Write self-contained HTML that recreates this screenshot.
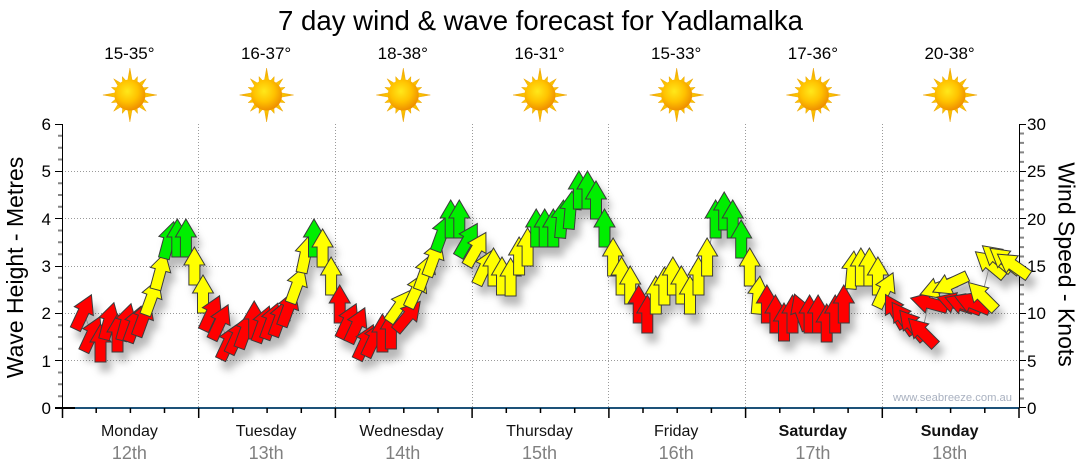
<!DOCTYPE html>
<html>
<head>
<meta charset="utf-8">
<style>
html,body{margin:0;padding:0;background:#fff;}
svg{display:block;font-family:"Liberation Sans",Arial,sans-serif;}
.r{fill:#ff0000}
.y{fill:#ffff00}
.g{fill:#00ee00}
</style>
</head>
<body>
<svg width="1080" height="475" viewBox="0 0 1080 475" xmlns="http://www.w3.org/2000/svg">
<defs>
  <radialGradient id="sung" cx="42%" cy="38%" r="62%">
    <stop offset="0" stop-color="#ffe81a"/>
    <stop offset="0.55" stop-color="#ffc200"/>
    <stop offset="1" stop-color="#ef9000"/>
  </radialGradient>
  <radialGradient id="rayg" cx="50%" cy="50%" r="50%">
    <stop offset="0.4" stop-color="#ffd400"/>
    <stop offset="1" stop-color="#f2a400"/>
  </radialGradient>
  <g id="sun">
    <polygon fill="url(#rayg)" stroke="#e8a000" stroke-width="0.4" points="0,-27 2.54,-12.75 7.65,-18.48 7.22,-10.81 16.26,-16.26 10.81,-7.22 18.48,-7.65 12.75,-2.54 27,0 12.75,2.54 18.48,7.65 10.81,7.22 16.26,16.26 7.22,10.81 7.65,18.48 2.54,12.75 0,27 -2.54,12.75 -7.65,18.48 -7.22,10.81 -16.26,16.26 -10.81,7.22 -18.48,7.65 -12.75,2.54 -27,0 -12.75,-2.54 -18.48,-7.65 -10.81,-7.22 -16.26,-16.26 -7.22,-10.81 -7.65,-18.48 -2.54,-12.75"/>
    <circle r="15.5" fill="url(#sung)"/>
  </g>
  <path id="a" d="M0,-19 L10.5,-1 L5.5,-1 L5.5,19 L-5.5,19 L-5.5,-1 L-10.5,-1 Z" stroke="#3a3a3a" stroke-width="1" stroke-linejoin="miter"/>
  <filter id="sh" x="-10%" y="-20%" width="120%" height="150%">
    <feDropShadow dx="5" dy="9" stdDeviation="4" flood-color="#000" flood-opacity="0.28"/>
  </filter>
</defs>

<rect width="1080" height="475" fill="#fff"/>

<!-- Title -->
<text x="540.5" y="30" font-size="27.5" text-anchor="middle" textLength="525" lengthAdjust="spacingAndGlyphs" fill="#000">7 day wind &amp; wave forecast for Yadlamalka</text>

<!-- Temperatures -->
<g font-size="17" text-anchor="middle" fill="#000">
  <text x="129.4" y="59">15-35°</text>
  <text x="266.1" y="59">16-37°</text>
  <text x="402.8" y="59">18-38°</text>
  <text x="539.5" y="59">16-31°</text>
  <text x="676.2" y="59">15-33°</text>
  <text x="812.9" y="59">17-36°</text>
  <text x="949.6" y="59">20-38°</text>
</g>

<!-- Suns -->
<use href="#sun" transform="translate(129.9,95)"/>
<use href="#sun" transform="translate(266.6,95)"/>
<use href="#sun" transform="translate(403.3,95)"/>
<use href="#sun" transform="translate(540,95)"/>
<use href="#sun" transform="translate(676.7,95)"/>
<use href="#sun" transform="translate(813.4,95)"/>
<use href="#sun" transform="translate(950.1,95)"/>

<!-- Grid -->
<g stroke="#9a9a9a" stroke-width="1" stroke-dasharray="1 2" fill="none">
  <path d="M62 171.5H1019 M62 218.5H1019 M62 266.5H1019 M62 313.5H1019 M62 360.5H1019"/>
  <path d="M198.5 124V408 M335.5 124V408 M472.5 124V408 M608.5 124V408 M745.5 124V408 M882.5 124V408"/>
</g>

<!-- Axes -->
<g fill="none">
  <path d="M62.5 124V408" stroke="#000" stroke-width="1"/>
  <path d="M1019.5 124V408" stroke="#000" stroke-width="1"/>
  <!-- left minor ticks -->
  <path stroke="#858585" stroke-width="2" d="M58 135.8H62M58 147.7H62M58 159.5H62M58 183.2H62M58 195H62M58 206.8H62M58 230.5H62M58 242.3H62M58 254.2H62M58 277.8H62M58 289.7H62M58 301.5H62M58 325.2H62M58 337H62M58 348.8H62M58 372.5H62M58 384.3H62M58 396.2H62"/>
  <!-- left major ticks -->
  <path stroke="#000" stroke-width="1" d="M55 124.5H62M55 171.5H62M55 218.5H62M55 266.5H62M55 313.5H62M55 360.5H62"/>
  <!-- right minor ticks -->
  <path stroke="#858585" stroke-width="2" d="M1020 398.5H1024M1020 389.1H1024M1020 379.6H1024M1020 370.1H1024M1020 351.2H1024M1020 341.7H1024M1020 332.3H1024M1020 322.8H1024M1020 303.9H1024M1020 294.4H1024M1020 284.9H1024M1020 275.5H1024M1020 256.5H1024M1020 247.1H1024M1020 237.6H1024M1020 228.1H1024M1020 209.2H1024M1020 199.7H1024M1020 190.3H1024M1020 180.8H1024M1020 161.9H1024M1020 152.4H1024M1020 142.9H1024M1020 133.5H1024"/>
  <!-- right major ticks -->
  <path stroke="#000" stroke-width="1" d="M1019 124.5H1026M1019 171.5H1026M1019 218.5H1026M1019 266.5H1026M1019 313.5H1026M1019 360.5H1026M1019 407.5H1026"/>
  <!-- bottom axis -->
  <path d="M62 408H1019" stroke="#1d5279" stroke-width="2"/>
  <path d="M55 408H75" stroke="#000" stroke-width="2"/>
  <path stroke="#000" stroke-width="1.5" d="M62.5 408V418M198.7 408V418M335.4 408V418M472.1 408V418M608.9 408V418M745.6 408V418M882.3 408V418M1019 408V418"/>
  <path stroke="#000" stroke-width="1.5" d="M96.2 408V413M130.4 408V413M164.5 408V413M232.9 408V413M267.1 408V413M301.3 408V413M369.6 408V413M403.8 408V413M438 408V413M506.3 408V413M540.5 408V413M574.7 408V413M643 408V413M677.2 408V413M711.4 408V413M779.8 408V413M813.9 408V413M848.1 408V413M916.5 408V413M950.6 408V413M984.8 408V413"/>
</g>

<!-- Tick labels -->
<g font-size="17" fill="#000" text-anchor="end">
  <text x="51" y="130">6</text>
  <text x="51" y="177">5</text>
  <text x="51" y="225">4</text>
  <text x="51" y="272">3</text>
  <text x="51" y="319">2</text>
  <text x="51" y="367">1</text>
  <text x="51" y="414">0</text>
</g>
<g font-size="17" fill="#000" text-anchor="start">
  <text x="1027" y="130">30</text>
  <text x="1027" y="177">25</text>
  <text x="1027" y="225">20</text>
  <text x="1027" y="272">15</text>
  <text x="1027" y="319">10</text>
  <text x="1027" y="367">5</text>
  <text x="1027" y="414">0</text>
</g>

<!-- Axis titles -->
<text transform="translate(23,267.5) rotate(-90)" font-size="23" text-anchor="middle" fill="#000">Wave Height - Metres</text>
<text transform="translate(1058.5,264.5) rotate(90)" font-size="23" text-anchor="middle" fill="#000">Wind Speed - Knots</text>

<!-- Watermark -->
<text x="893" y="401" font-size="11" fill="#a9b1c0" textLength="119" lengthAdjust="spacingAndGlyphs">www.seabreeze.com.au</text>

<!-- Day labels -->
<g font-size="16" text-anchor="middle" fill="#111">
  <text x="129.4" y="436">Monday</text>
  <text x="266.1" y="436">Tuesday</text>
  <text x="401.5" y="436">Wednesday</text>
  <text x="539.5" y="436">Thursday</text>
  <text x="676.2" y="436">Friday</text>
  <text x="812.9" y="436" font-weight="bold">Saturday</text>
  <text x="949.6" y="436" font-weight="bold">Sunday</text>
</g>
<g font-size="18" text-anchor="middle" fill="#808080">
  <text x="129.4" y="459">12th</text>
  <text x="266.1" y="459">13th</text>
  <text x="402.8" y="459">14th</text>
  <text x="539.5" y="459">15th</text>
  <text x="676.2" y="459">16th</text>
  <text x="812.9" y="459">17th</text>
  <text x="949.6" y="459">18th</text>
</g>

<!-- Wind arrows -->
<g filter="url(#sh)">
<polyline fill="none" stroke="#8a8a8a" stroke-width="1" points="83.4,312 91.9,334 100.5,343 109,321 117.5,333 126.1,322 134.6,324 143.2,318 151.7,297 160.3,271 168.8,240 177.3,238 185.9,238 194.4,266 203,294 211.5,313 220.1,322 228.6,342 237.2,336 245.7,330 254.2,320 262.8,324 271.3,321 279.9,318 288.4,308 297,285 305.5,254 314,238 322.6,248 331.1,276 339.7,304 348.2,321 356.8,325 365.3,342 373.9,339 382.4,333 390.9,330 399.5,306 408,316 416.6,290 425.1,272 433.7,258 442.2,233 450.7,219 459.3,219 467.8,240 476.4,249 484.9,267 493.5,267 502,276 510.6,277 519.1,256 527.6,247 536.2,228 544.7,228 553.3,228 561.8,219 570.4,210 578.9,190 587.5,190 596,200 604.5,228 613.1,257 621.6,276 630.2,285 638.7,304 647.3,314 655.8,295 664.4,286 672.9,276 681.4,285 690,295 698.5,276 707.1,257 715.6,219 724.2,211 732.7,219 741.2,239 749.8,267 758.3,295 766.9,304 775.4,314 784,322 792.5,314 801,312 809.6,314 818.1,314 826.7,323 835.2,314 843.8,304 852.3,270 860.9,267 869.4,267 877.9,276 885,290 895,311 903,318 912,325 922,332 929,303 938,288 950,284 955,303 963,304 972,303 982,296 990,264 997,258 1005,260 1013,265"/>

<!-- Monday -->
<use href="#a" class="r" transform="translate(83.4,312) rotate(25)"/>
<use href="#a" class="r" transform="translate(91.9,334) rotate(25)"/>
<use href="#a" class="r" transform="translate(100.5,343)"/>
<use href="#a" class="r" transform="translate(109,321) rotate(15)"/>
<use href="#a" class="r" transform="translate(117.5,333)"/>
<use href="#a" class="r" transform="translate(126.1,322) rotate(15)"/>
<use href="#a" class="r" transform="translate(134.6,324) rotate(20)"/>
<use href="#a" class="r" transform="translate(143.2,318) rotate(20)"/>
<use href="#a" class="y" transform="translate(151.7,297) rotate(20)"/>
<use href="#a" class="y" transform="translate(160.3,271) rotate(15)"/>
<use href="#a" class="g" transform="translate(168.8,240) rotate(15)"/>
<use href="#a" class="g" transform="translate(177.3,238)"/>
<use href="#a" class="g" transform="translate(185.9,238)"/>
<use href="#a" class="y" transform="translate(194.4,266)"/>
<!-- Tuesday -->
<use href="#a" class="y" transform="translate(203,294)"/>
<use href="#a" class="r" transform="translate(211.5,313) rotate(25)"/>
<use href="#a" class="r" transform="translate(220.1,322) rotate(25)"/>
<use href="#a" class="r" transform="translate(228.6,342) rotate(25)"/>
<use href="#a" class="r" transform="translate(237.2,336) rotate(25)"/>
<use href="#a" class="r" transform="translate(245.7,330) rotate(20)"/>
<use href="#a" class="r" transform="translate(254.2,320)"/>
<use href="#a" class="r" transform="translate(262.8,324) rotate(20)"/>
<use href="#a" class="r" transform="translate(271.3,321) rotate(20)"/>
<use href="#a" class="r" transform="translate(279.9,318) rotate(20)"/>
<use href="#a" class="r" transform="translate(288.4,308) rotate(20)"/>
<use href="#a" class="y" transform="translate(297,285) rotate(20)"/>
<use href="#a" class="y" transform="translate(305.5,254) rotate(12)"/>
<use href="#a" class="g" transform="translate(314,238)"/>
<use href="#a" class="y" transform="translate(322.6,248)"/>
<use href="#a" class="y" transform="translate(331.1,276)"/>
<!-- Wednesday -->
<use href="#a" class="r" transform="translate(339.7,304)"/>
<use href="#a" class="r" transform="translate(348.2,321) rotate(25)"/>
<use href="#a" class="r" transform="translate(356.8,325) rotate(25)"/>
<use href="#a" class="r" transform="translate(365.3,342) rotate(25)"/>
<use href="#a" class="r" transform="translate(373.9,339) rotate(25)"/>
<use href="#a" class="r" transform="translate(382.4,333)"/>
<use href="#a" class="r" transform="translate(390.9,330)"/>
<use href="#a" class="y" transform="translate(399.5,306) rotate(35)"/>
<use href="#a" class="r" transform="translate(408,316) rotate(40)"/>
<use href="#a" class="y" transform="translate(416.6,290) rotate(25)"/>
<use href="#a" class="y" transform="translate(425.1,272) rotate(20)"/>
<use href="#a" class="y" transform="translate(433.7,258) rotate(20)"/>
<use href="#a" class="g" transform="translate(442.2,233) rotate(20)"/>
<use href="#a" class="g" transform="translate(450.7,219)"/>
<use href="#a" class="g" transform="translate(459.3,219)"/>
<use href="#a" class="g" transform="translate(467.8,240) rotate(30)"/>
<!-- Thursday -->
<use href="#a" class="y" transform="translate(476.4,249) rotate(30)"/>
<use href="#a" class="y" transform="translate(484.9,267) rotate(25)"/>
<use href="#a" class="y" transform="translate(493.5,267)"/>
<use href="#a" class="y" transform="translate(502,276)"/>
<use href="#a" class="y" transform="translate(510.6,277)"/>
<use href="#a" class="y" transform="translate(519.1,256)"/>
<use href="#a" class="y" transform="translate(527.6,247)"/>
<use href="#a" class="g" transform="translate(536.2,228)"/>
<use href="#a" class="g" transform="translate(544.7,228)"/>
<use href="#a" class="g" transform="translate(553.3,228)"/>
<use href="#a" class="g" transform="translate(561.8,219) rotate(5)"/>
<use href="#a" class="g" transform="translate(570.4,210) rotate(5)"/>
<use href="#a" class="g" transform="translate(578.9,190)"/>
<use href="#a" class="g" transform="translate(587.5,190)"/>
<use href="#a" class="g" transform="translate(596,200)"/>
<use href="#a" class="g" transform="translate(604.5,228)"/>
<!-- Friday -->
<use href="#a" class="y" transform="translate(613.1,257)"/>
<use href="#a" class="y" transform="translate(621.6,276)"/>
<use href="#a" class="y" transform="translate(630.2,285)"/>
<use href="#a" class="r" transform="translate(638.7,304)"/>
<use href="#a" class="r" transform="translate(647.3,314)"/>
<use href="#a" class="y" transform="translate(655.8,295)"/>
<use href="#a" class="y" transform="translate(664.4,286)"/>
<use href="#a" class="y" transform="translate(672.9,276)"/>
<use href="#a" class="y" transform="translate(681.4,285)"/>
<use href="#a" class="y" transform="translate(690,295)"/>
<use href="#a" class="y" transform="translate(698.5,276)"/>
<use href="#a" class="y" transform="translate(707.1,257)"/>
<use href="#a" class="g" transform="translate(715.6,219)"/>
<use href="#a" class="g" transform="translate(724.2,211)"/>
<use href="#a" class="g" transform="translate(732.7,219)"/>
<use href="#a" class="g" transform="translate(741.2,239)"/>
<!-- Saturday -->
<use href="#a" class="y" transform="translate(749.8,267)"/>
<use href="#a" class="y" transform="translate(758.3,295) rotate(5)"/>
<use href="#a" class="r" transform="translate(766.9,304)"/>
<use href="#a" class="r" transform="translate(775.4,314)"/>
<use href="#a" class="r" transform="translate(784,322)"/>
<use href="#a" class="r" transform="translate(792.5,314)"/>
<use href="#a" class="r" transform="translate(801,312) rotate(-20)"/>
<use href="#a" class="r" transform="translate(809.6,314)"/>
<use href="#a" class="r" transform="translate(818.1,314)"/>
<use href="#a" class="r" transform="translate(826.7,323)"/>
<use href="#a" class="r" transform="translate(835.2,314)"/>
<use href="#a" class="r" transform="translate(843.8,304)"/>
<use href="#a" class="y" transform="translate(852.3,270) rotate(5)"/>
<use href="#a" class="y" transform="translate(860.9,267)"/>
<use href="#a" class="y" transform="translate(869.4,267)"/>
<use href="#a" class="y" transform="translate(877.9,276)"/>
<!-- Sunday -->
<use href="#a" class="y" transform="translate(885,290) rotate(25)"/>
<use href="#a" class="r" transform="translate(895,311) rotate(-30)"/>
<use href="#a" class="r" transform="translate(903,318) rotate(-35)"/>
<use href="#a" class="r" transform="translate(912,325) rotate(-40)"/>
<use href="#a" class="r" transform="translate(922,332) rotate(-45)"/>
<use href="#a" class="r" transform="translate(929,303) rotate(-75)"/>
<use href="#a" class="y" transform="translate(938,288) rotate(-110)"/>
<use href="#a" class="y" transform="translate(950,284) rotate(-115)"/>
<use href="#a" class="r" transform="translate(955,303) rotate(-72)"/>
<use href="#a" class="r" transform="translate(963,304) rotate(-70)"/>
<use href="#a" class="r" transform="translate(972,303) rotate(-68)"/>
<use href="#a" class="y" transform="translate(982,296) rotate(-45)"/>
<use href="#a" class="y" transform="translate(990,264) rotate(-50)"/>
<use href="#a" class="y" transform="translate(997,258) rotate(-50)"/>
<use href="#a" class="y" transform="translate(1005,260) rotate(-52)"/>
<use href="#a" class="y" transform="translate(1013,265) rotate(-55)"/>
</g>
</svg>
</body>
</html>
